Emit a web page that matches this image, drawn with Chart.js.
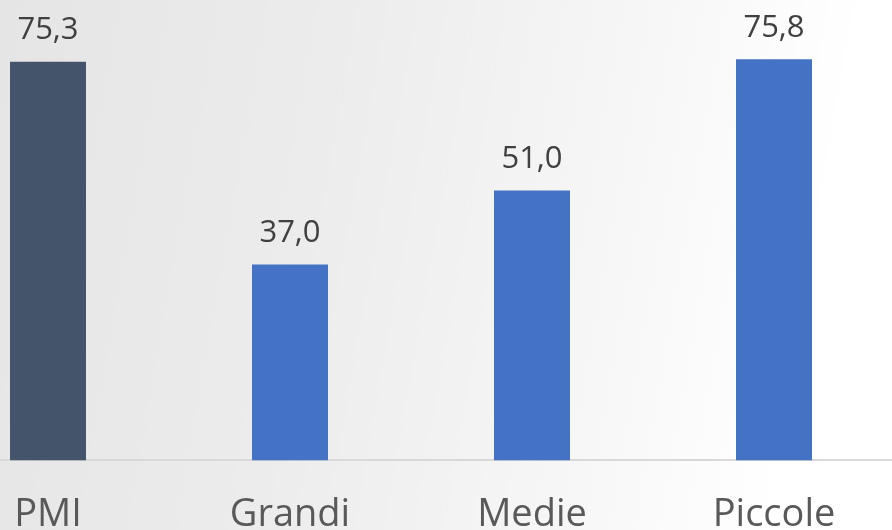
<!DOCTYPE html>
<html>
<head>
<meta charset="utf-8">
<script src="https://cdn.jsdelivr.net/npm/chart.js@4/dist/chart.umd.min.js"></script>
<style>
  html, body { margin: 0; padding: 0; }
  body {
    width: 892px; height: 530px; overflow: hidden; position: relative;
    background: linear-gradient(100deg, #e5e5e5 0%, #ececec 35%, #f6f6f6 65%, #ffffff 88%);
  }
  #wrap { position: absolute; left: -73px; top: 0; width: 968px; height: 570px; }
</style>
</head>
<body>
<div id="wrap"><canvas id="chart"></canvas></div>
<script>
// Chart data
const categories = ['PMI', 'Grandi', 'Medie', 'Piccole'];
const values = [75.3, 37.0, 51.0, 75.8];
const barColors = ['#44546a', '#4472c4', '#4472c4', '#4472c4'];

// Draws the value above each bar, Italian decimal comma
const valueLabels = {
    id: 'valueLabels',
    afterDatasetsDraw(chart) {
        const ctx = chart.ctx;
        const meta = chart.getDatasetMeta(0);
        ctx.save();
        ctx.font = '31px "Open Sans"';
        ctx.fillStyle = '#404040';
        ctx.textAlign = 'center';
        ctx.textBaseline = 'bottom';
        meta.data.forEach((bar, i) => {
            ctx.fillText(values[i].toFixed(1).replace('.', ','), bar.x, bar.y - 16);
        });
        ctx.restore();
    }
};

new Chart(document.getElementById('chart'), {
    type: 'bar',
    data: {
        labels: categories,
        datasets: [{
            data: values,
            backgroundColor: barColors,
            barPercentage: 1,
            categoryPercentage: 0.314
        }]
    },
    options: {
        responsive: true,
        maintainAspectRatio: false,
        animation: false,
        layout: { padding: { top: 37, bottom: 0 } },
        plugins: { legend: { display: false }, tooltip: { enabled: false } },
        scales: {
            x: {
                grid: { display: false, drawTicks: false },
                border: { display: true, color: '#d9d9d9', width: 2 },
                ticks: { color: '#595959', font: { family: 'Open Sans', size: 38 }, padding: 32 }
            },
            y: {
                display: false,
                min: 0,
                max: 80
            }
        }
    },
    plugins: [valueLabels]
});
</script>
</body>
</html>
